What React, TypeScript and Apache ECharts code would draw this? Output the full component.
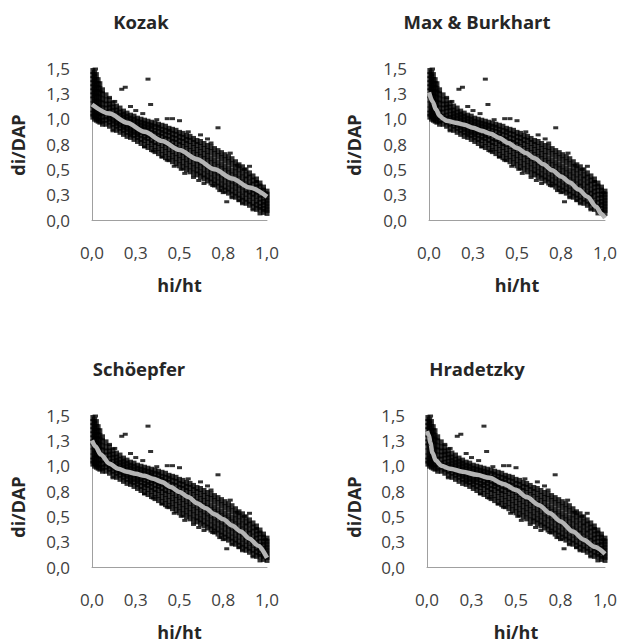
import React, { useEffect, useRef } from "react";
import * as echarts from "echarts";

// ---- tick labels ----
const xTickLabels = ["0,0", "0,3", "0,5", "0,8", "1,0"];
const yTickLabels = ["0,0", "0,3", "0,5", "0,8", "1,0", "1,3", "1,5"];

// ---- panel titles ----
const panelTitles = ["Kozak", "Max & Burkhart", "Schöepfer", "Hradetzky"];

// ---- observed taper data (hi/ht columns, di/DAP values in each column) ----
const hiHtColumns = [
  0.005, 0.015, 0.025, 0.035, 0.045, 0.06, 0.08, 0.1, 0.12, 0.14, 0.16, 0.18, 0.2,
  0.22, 0.24, 0.26, 0.28, 0.3, 0.32, 0.34, 0.36, 0.38, 0.4, 0.42, 0.44, 0.46, 0.48,
  0.5, 0.52, 0.54, 0.56, 0.58, 0.6, 0.62, 0.64, 0.66, 0.68, 0.7, 0.72, 0.74, 0.76,
  0.78, 0.8, 0.82, 0.84, 0.86, 0.88, 0.9, 0.92, 0.94, 0.96, 0.98, 1.0,
];
const diDapColumns = [
  [1.47, 1.43, 1.39, 1.35, 1.31, 1.27, 1.23, 1.19, 1.14, 1.09, 1.05, 1.02],
  [1.45, 1.41, 1.37, 1.33, 1.29, 1.25, 1.21, 1.16, 1.11, 1.07, 1.03, 1.0],
  [1.43, 1.38, 1.34, 1.3, 1.26, 1.22, 1.17, 1.12, 1.07, 1.02, 0.99],
  [1.38, 1.34, 1.3, 1.26, 1.21, 1.16, 1.11, 1.06, 1.02, 0.98],
  [1.34, 1.29, 1.25, 1.2, 1.15, 1.1, 1.05, 1.01, 0.97],
  [1.28, 1.24, 1.19, 1.15, 1.1, 1.06, 1.02, 0.98, 0.95],
  [1.23, 1.18, 1.14, 1.1, 1.06, 1.02, 0.99, 0.95],
  [1.18, 1.14, 1.11, 1.07, 1.03, 1.0, 0.97, 0.93],
  [1.15, 1.11, 1.08, 1.04, 1.01, 0.98, 0.95, 0.91],
  [1.12, 1.08, 1.05, 1.02, 0.99, 0.96, 0.93, 0.89],
  [1.1, 1.06, 1.03, 1.0, 0.97, 0.94, 0.91, 0.87],
  [1.07, 1.04, 1.01, 0.98, 0.95, 0.92, 0.89, 0.85],
  [1.05, 1.02, 0.99, 0.96, 0.93, 0.9, 0.87, 0.83],
  [1.03, 1.0, 0.97, 0.94, 0.91, 0.88, 0.85, 0.82],
  [1.02, 0.99, 0.96, 0.93, 0.9, 0.87, 0.84, 0.8],
  [1.0, 0.97, 0.94, 0.91, 0.88, 0.85, 0.82, 0.78],
  [0.99, 0.96, 0.93, 0.9, 0.87, 0.84, 0.8, 0.76],
  [0.98, 0.95, 0.92, 0.89, 0.86, 0.82, 0.79, 0.74],
  [0.97, 0.94, 0.91, 0.88, 0.84, 0.81, 0.77, 0.72],
  [0.96, 0.93, 0.9, 0.86, 0.83, 0.79, 0.75, 0.7],
  [0.95, 0.92, 0.88, 0.85, 0.81, 0.77, 0.73, 0.68],
  [0.94, 0.91, 0.87, 0.83, 0.8, 0.76, 0.71, 0.66],
  [0.93, 0.89, 0.86, 0.82, 0.78, 0.74, 0.69, 0.64],
  [0.92, 0.88, 0.84, 0.8, 0.76, 0.72, 0.67, 0.62],
  [0.9, 0.87, 0.83, 0.79, 0.75, 0.7, 0.65, 0.6],
  [0.89, 0.85, 0.81, 0.77, 0.73, 0.68, 0.63, 0.58],
  [0.88, 0.84, 0.8, 0.76, 0.71, 0.66, 0.61, 0.56],
  [0.86, 0.82, 0.78, 0.74, 0.69, 0.64, 0.59, 0.54],
  [0.85, 0.81, 0.77, 0.72, 0.67, 0.62, 0.57, 0.52],
  [0.83, 0.79, 0.75, 0.7, 0.65, 0.6, 0.55, 0.5],
  [0.82, 0.78, 0.73, 0.68, 0.63, 0.58, 0.53, 0.48],
  [0.8, 0.76, 0.71, 0.66, 0.61, 0.56, 0.51, 0.46],
  [0.78, 0.74, 0.69, 0.64, 0.59, 0.54, 0.49, 0.45],
  [0.77, 0.72, 0.67, 0.62, 0.57, 0.52, 0.47, 0.43],
  [0.75, 0.7, 0.65, 0.6, 0.55, 0.5, 0.45, 0.41],
  [0.73, 0.68, 0.63, 0.58, 0.53, 0.48, 0.43, 0.39],
  [0.72, 0.67, 0.61, 0.56, 0.51, 0.46, 0.41, 0.37],
  [0.7, 0.65, 0.59, 0.54, 0.49, 0.44, 0.39, 0.35],
  [0.68, 0.63, 0.57, 0.52, 0.47, 0.42, 0.37, 0.33],
  [0.66, 0.61, 0.55, 0.5, 0.45, 0.4, 0.35, 0.31],
  [0.64, 0.59, 0.53, 0.48, 0.43, 0.38, 0.33, 0.29],
  [0.62, 0.57, 0.51, 0.46, 0.41, 0.36, 0.31, 0.27],
  [0.6, 0.55, 0.49, 0.44, 0.39, 0.34, 0.29, 0.25],
  [0.57, 0.52, 0.47, 0.42, 0.37, 0.32, 0.27, 0.23],
  [0.54, 0.5, 0.45, 0.4, 0.35, 0.3, 0.25, 0.21],
  [0.52, 0.47, 0.42, 0.37, 0.33, 0.28, 0.23, 0.19],
  [0.49, 0.44, 0.4, 0.35, 0.3, 0.26, 0.21, 0.17],
  [0.46, 0.42, 0.37, 0.33, 0.28, 0.24, 0.19, 0.15],
  [0.43, 0.39, 0.35, 0.3, 0.26, 0.22, 0.17, 0.13],
  [0.4, 0.36, 0.32, 0.28, 0.24, 0.19, 0.15, 0.11],
  [0.36, 0.33, 0.29, 0.25, 0.21, 0.17, 0.13, 0.1],
  [0.32, 0.29, 0.25, 0.22, 0.18, 0.15, 0.11, 0.08],
  [0.28, 0.25, 0.22, 0.19, 0.16, 0.13, 0.1, 0.07],
];
// scattered individual observations away from the main cloud [hi/ht, di/DAP]
const outlierPoints = [
  [0.02, 1.49], [0.17, 1.29], [0.19, 1.31], [0.32, 1.39], [0.335, 1.14],
  [0.29, 1.05], [0.25, 1.08], [0.22, 1.12], [0.37, 0.99], [0.43, 1.0],
  [0.46, 1.0], [0.5, 0.98], [0.62, 0.84], [0.72, 0.91], [0.66, 0.8],
  [0.83, 0.54], [0.9, 0.53], [0.87, 0.5], [0.94, 0.38], [0.99, 0.27],
  [0.43, 0.59], [0.47, 0.53], [0.53, 0.46], [0.58, 0.42], [0.61, 0.39],
  [0.64, 0.36], [0.69, 0.34], [0.73, 0.29], [0.77, 0.18], [0.8, 0.22],
  [0.4, 0.62], [0.3, 0.72], [0.12, 0.88], [0.86, 0.16], [0.92, 0.1], [0.96, 0.06],
  [0.1, 1.21], [0.13, 1.17], [0.55, 0.87], [0.68, 0.76], [0.79, 0.66],
  [0.35, 0.68], [0.51, 0.5], [0.75, 0.27], [0.84, 0.19],
];

// ---- fitted taper models [hi/ht, di/DAP] ----
const kozakCurve = [
  [0, 1.14], [0.1, 1.05], [0.2, 0.96], [0.3, 0.87], [0.4, 0.78], [0.5, 0.69],
  [0.6, 0.6], [0.7, 0.5], [0.8, 0.41], [0.9, 0.32], [1.0, 0.23],
];
const maxBurkhartCurve = [
  [0, 1.26], [0.02, 1.17], [0.04, 1.09], [0.06, 1.03], [0.08, 1.0], [0.1, 0.98],
  [0.15, 0.96], [0.2, 0.94], [0.25, 0.91], [0.3, 0.88], [0.35, 0.85], [0.4, 0.81],
  [0.45, 0.76], [0.5, 0.71], [0.55, 0.66], [0.6, 0.61], [0.65, 0.55], [0.7, 0.49],
  [0.75, 0.43], [0.8, 0.37], [0.85, 0.3], [0.9, 0.23], [0.95, 0.13], [0.98, 0.06], [1.0, 0.02],
];
const schoepferCurve = [
  [0, 1.25], [0.02, 1.19], [0.05, 1.11], [0.1, 1.02], [0.15, 0.97], [0.2, 0.94],
  [0.25, 0.92], [0.3, 0.9], [0.35, 0.87], [0.4, 0.84], [0.45, 0.79], [0.5, 0.74],
  [0.55, 0.69], [0.6, 0.63], [0.65, 0.58], [0.7, 0.52], [0.75, 0.47], [0.8, 0.41],
  [0.85, 0.35], [0.9, 0.28], [0.95, 0.21], [1.0, 0.09],
];
const hradetzkyCurve = [
  [0, 1.34], [0.01, 1.3], [0.02, 1.22], [0.03, 1.13], [0.05, 1.05], [0.08, 1.0],
  [0.13, 0.97], [0.2, 0.94], [0.28, 0.91], [0.35, 0.88], [0.43, 0.82], [0.5, 0.76],
  [0.56, 0.69], [0.63, 0.61], [0.69, 0.53], [0.75, 0.45], [0.82, 0.35], [0.88, 0.27],
  [0.94, 0.2], [1.0, 0.13],
];
const modelCurves = [kozakCurve, maxBurkhartCurve, schoepferCurve, hradetzkyCurve];

const FONT = "'Open Sans', 'Liberation Sans', sans-serif";

export default function App() {
  const ref = useRef<HTMLDivElement>(null);

  useEffect(() => {
    if (!ref.current) return;
    const chart = echarts.init(ref.current, null, { renderer: "svg" });

    const cloud: number[][] = [];
    hiHtColumns.forEach((x, i) => diDapColumns[i].forEach((y) => cloud.push([x, y])));

    const grids = [
      { left: 92, top: 68, width: 175, height: 152 },
      { left: 429, top: 68, width: 176, height: 152 },
      { left: 92, top: 415, width: 175, height: 152 },
      { left: 427, top: 415, width: 178, height: 152 },
    ];
    const titlePos = [[141, 21], [477, 21], [139, 368], [477, 368]];
    const yNamePos = [[18, 145], [354, 145], [18, 507], [354, 507]];

    const axisLine = { show: true, onZero: false, lineStyle: { color: "#a0a0a0", width: 1 } };
    const labelStyle = { color: "#404040", fontSize: 17, fontFamily: FONT };

    const option: any = {
      animation: false,
      backgroundColor: "#ffffff",
      grid: grids.map((g) => ({ ...g, containLabel: false })),
      xAxis: grids.map((_, i) => ({
        type: "value",
        gridIndex: i,
        min: 0,
        max: 1,
        interval: 0.25,
        axisLine,
        axisTick: { show: false },
        splitLine: { show: false },
        axisLabel: {
          ...labelStyle,
          margin: 24,
          formatter: (v: number) => xTickLabels[Math.round(v / 0.25)],
        },
        name: "hi/ht",
        nameLocation: "middle",
        nameGap: 56,
        nameTextStyle: { fontFamily: FONT, fontWeight: "bold", fontSize: 18, color: "#262626" },
      })),
      yAxis: grids.map((_, i) => ({
        type: "value",
        gridIndex: i,
        min: 0,
        max: 1.5,
        interval: 0.25,
        axisLine,
        axisTick: { show: false },
        splitLine: { show: false },
        axisLabel: {
          ...labelStyle,
          margin: 22,
          formatter: (v: number) => yTickLabels[Math.round(v / 0.25)],
        },
      })),
      graphic: [
        ...panelTitles.map((t, i) => ({
          type: "text",
          x: titlePos[i][0],
          y: titlePos[i][1],
          silent: true,
          style: {
            text: t,
            fill: "#262626",
            font: `bold 18.5px ${FONT}`,
            textAlign: "center",
            textVerticalAlign: "middle",
          },
        })),
        ...yNamePos.map((p) => ({
          type: "text",
          x: p[0],
          y: p[1],
          rotation: Math.PI / 2,
          silent: true,
          style: {
            text: "di/DAP",
            fill: "#262626",
            font: `bold 18px ${FONT}`,
            textAlign: "center",
            textVerticalAlign: "middle",
          },
        })),
      ],
      series: [
        ...grids.map((_, i) => ({
          type: "scatter",
          xAxisIndex: i,
          yAxisIndex: i,
          data: cloud,
          symbol: "rect",
          symbolSize: [5, 6],
          itemStyle: { color: "#000000" },
          silent: true,
        })),
        ...grids.map((_, i) => ({
          type: "scatter",
          xAxisIndex: i,
          yAxisIndex: i,
          data: outlierPoints,
          symbol: "rect",
          symbolSize: [5, 3],
          itemStyle: { color: "#000000" },
          silent: true,
        })),
        ...grids.map((_, i) => ({
          type: "line",
          xAxisIndex: i,
          yAxisIndex: i,
          data: modelCurves[i],
          showSymbol: false,
          smooth: 0.3,
          smoothMonotone: "x",
          lineStyle: { color: "#b4b4b4", width: 4.5 },
          silent: true,
          z: 3,
        })),
      ],
    };

    chart.setOption(option);
    return () => chart.dispose();
  }, []);

  return (
    <div
      ref={ref}
      style={{ position: "absolute", left: 0, top: 0, width: 620, height: 644, background: "#fff" }}
    />
  );
}
